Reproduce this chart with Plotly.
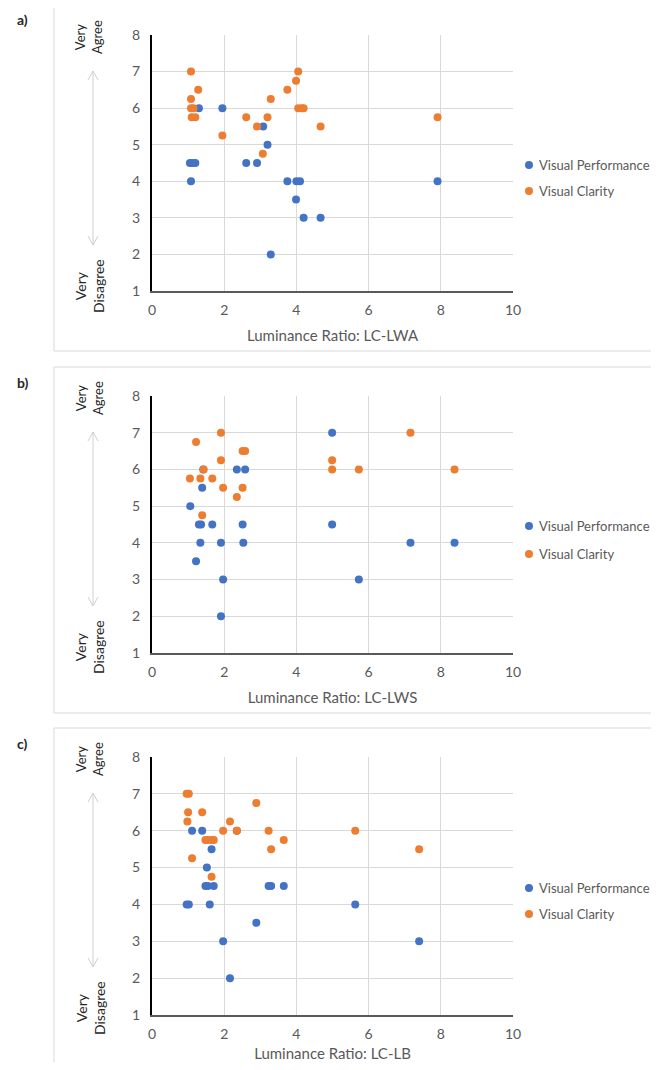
import plotly.graph_objects as go

PAGE_W, PAGE_H = 659, 1070
OFF = 8  # default body margin of the html page
W, H = PAGE_W - 2 * OFF, PAGE_H - 2 * OFF

# ---------------- data ----------------
# Panel a) Luminance Ratio: LC-LWA
a_perf_x = [1.08, 1.05, 1.12, 1.20, 1.30, 1.95, 2.61, 2.91, 3.08, 3.20, 3.29, 3.75, 4.00, 4.10, 3.99, 4.20, 4.67, 7.91]
a_perf_y = [4.0, 4.5, 4.5, 4.5, 6.0, 6.0, 4.5, 4.5, 5.5, 5.0, 2.0, 4.0, 4.0, 4.0, 3.5, 3.0, 3.0, 4.0]
a_clar_x = [1.08, 1.28, 1.08, 1.08, 1.15, 1.10, 1.20, 1.95, 2.61, 2.91, 3.07, 3.20, 3.29, 3.75, 3.99, 4.05, 4.05, 4.15, 4.20, 4.67, 7.91]
a_clar_y = [7.0, 6.5, 6.25, 6.0, 6.0, 5.75, 5.75, 5.25, 5.75, 5.5, 4.75, 5.75, 6.25, 6.5, 6.75, 7.0, 6.0, 6.0, 6.0, 5.5, 5.75]

# Panel b) Luminance Ratio: LC-LWS
b_perf_x = [4.99, 2.35, 2.58, 1.42, 1.39, 1.06, 1.30, 1.36, 1.67, 2.51, 4.99, 1.34, 1.91, 2.53, 7.16, 8.38, 1.22, 1.97, 5.73, 1.91]
b_perf_y = [7.0, 6.0, 6.0, 6.0, 5.5, 5.0, 4.5, 4.5, 4.5, 4.5, 4.5, 4.0, 4.0, 4.0, 4.0, 4.0, 3.5, 3.0, 3.0, 2.0]
b_clar_x = [1.91, 7.16, 1.22, 2.51, 2.58, 1.91, 4.99, 1.43, 4.99, 5.73, 8.38, 1.05, 1.34, 1.67, 1.97, 2.51, 2.35, 1.39]
b_clar_y = [7.0, 7.0, 6.75, 6.5, 6.5, 6.25, 6.25, 6.0, 6.0, 6.0, 6.0, 5.75, 5.75, 5.75, 5.5, 5.5, 5.25, 4.75]

# Panel c) Luminance Ratio: LC-LB
c_perf_x = [1.11, 1.39, 2.35, 1.65, 1.52, 1.48, 1.55, 1.71, 3.23, 3.30, 3.65, 0.96, 1.02, 1.60, 5.63, 2.89, 1.97, 7.40, 2.16]
c_perf_y = [6.0, 6.0, 6.0, 5.5, 5.0, 4.5, 4.5, 4.5, 4.5, 4.5, 4.5, 4.0, 4.0, 4.0, 4.0, 3.5, 3.0, 3.0, 2.0]
c_clar_x = [0.96, 1.02, 1.00, 1.39, 0.98, 2.16, 1.97, 2.35, 3.23, 5.63, 2.89, 1.48, 1.55, 1.65, 1.71, 3.65, 3.30, 7.40, 1.11, 1.65]
c_clar_y = [7.0, 7.0, 6.5, 6.5, 6.25, 6.25, 6.0, 6.0, 6.0, 6.0, 6.75, 5.75, 5.75, 5.75, 5.75, 5.75, 5.5, 5.5, 5.25, 4.75]

x_titles = ["Luminance Ratio: LC-LWA", "Luminance Ratio: LC-LWS", "Luminance Ratio: LC-LB"]
panel_labels = ["a)", "b)", "c)"]
series_names = ["Visual Performance", "Visual Clarity"]
series_colors = ["#4472C4", "#ED7D31"]
x_ticks = [0, 2, 4, 6, 8, 10]
y_ticks = [1, 2, 3, 4, 5, 6, 7, 8]

panels = [
    (a_perf_x, a_perf_y, a_clar_x, a_clar_y),
    (b_perf_x, b_perf_y, b_clar_x, b_clar_y),
    (c_perf_x, c_perf_y, c_clar_x, c_clar_y),
]

# ---------------- layout helpers (page pixel -> paper) ----------------
def px(x):
    return (x - OFF) / W

def py(y):
    return 1 - (y - OFF) / H

FONT = "Lato, 'Open Sans', sans-serif"
GRAY = "#595959"

# page-pixel geometry per panel: (y of value 8, y of value 1, box top, box bottom, legend y, legend gap)
geo = [
    (35, 291, 5, 351, 165, 26),
    (396, 653, 367, 713, 526, 28),
    (757, 1015, 728, 1078, 888, 26),
]
X0, X1 = 152, 513

fig = go.Figure()
shapes = []
annotations = []
layout_extra = {}

for i, (pxs, pys, cxs, cys) in enumerate(panels):
    sfx = "" if i == 0 else str(i + 1)
    xa = "x" + sfx
    ya = "y" + sfx
    ytop, ybot, btop, bbot, legy, leggap = geo[i]

    for j, (xs, ys) in enumerate([(pxs, pys), (cxs, cys)]):
        fig.add_trace(go.Scatter(
            x=xs, y=ys, mode="markers", name=series_names[j],
            marker=dict(color=series_colors[j], size=8, line=dict(width=0)),
            xaxis=xa, yaxis=ya, showlegend=False,
        ))
        # legend key (manual)
        ly = legy + j * leggap
        shapes.append(dict(type="circle", xref="paper", yref="paper",
                           x0=px(525), x1=px(533), y0=py(ly + 4), y1=py(ly - 4),
                           fillcolor=series_colors[j], line=dict(width=0)))
        annotations.append(dict(text=series_names[j], x=px(537), y=py(ly), xref="paper", yref="paper",
                                xanchor="left", yanchor="middle", showarrow=False,
                                font=dict(family=FONT, size=13, color=GRAY)))

    layout_extra["xaxis" + sfx] = dict(
        domain=[px(X0), px(X1)], anchor=ya, range=[0, 10],
        tickvals=x_ticks, showgrid=True, gridcolor="#D9D9D9", gridwidth=1,
        zeroline=False, showline=True, linecolor="#595959", linewidth=2,
        ticks="outside", ticklen=5, tickcolor="rgba(0,0,0,0)",
        tickfont=dict(family=FONT, size=14, color=GRAY),
        title=dict(text=x_titles[i], font=dict(family=FONT, size=15, color=GRAY), standoff=14),
        automargin=False,
    )
    layout_extra["yaxis" + sfx] = dict(
        domain=[py(ybot), py(ytop)], anchor=xa, range=[1, 8],
        tickvals=y_ticks, showgrid=True, gridcolor="#D9D9D9", gridwidth=1,
        zeroline=False, showline=True, linecolor="black", linewidth=2,
        ticks="outside", ticklen=7, tickcolor="rgba(0,0,0,0)",
        tickfont=dict(family=FONT, size=14, color=GRAY), automargin=False,
    )

    # panel border
    shapes.append(dict(type="rect", xref="paper", yref="paper",
                       x0=px(54), x1=px(670), y0=py(bbot), y1=py(btop),
                       line=dict(color="#D9D9D9", width=1), fillcolor="rgba(0,0,0,0)", layer="below"))
    # double headed arrow
    ax = 93
    a_top = ytop + 36
    a_bot = ytop + 210
    shapes.append(dict(type="line", xref="paper", yref="paper",
                       x0=px(ax), x1=px(ax), y0=py(a_top), y1=py(a_bot),
                       line=dict(color="#D0D0D0", width=1)))
    shapes.append(dict(type="path", xref="paper", yref="paper",
                       path=f"M {px(ax-5)},{py(a_top+9)} L {px(ax)},{py(a_top)} L {px(ax+5)},{py(a_top+9)}",
                       line=dict(color="#D0D0D0", width=1)))
    shapes.append(dict(type="path", xref="paper", yref="paper",
                       path=f"M {px(ax-5)},{py(a_bot-9)} L {px(ax)},{py(a_bot)} L {px(ax+5)},{py(a_bot-9)}",
                       line=dict(color="#D0D0D0", width=1)))

    # side labels
    annotations.append(dict(text="Very<br>Agree", x=px(89), y=py(ytop + 2), xref="paper", yref="paper",
                            xanchor="center", yanchor="middle",
                            textangle=-90, showarrow=False, align="center",
                            font=dict(family=FONT, size=13, color="#262626")))
    annotations.append(dict(text="Very<br>Disagree", x=px(90), y=py(ytop + 251), xref="paper", yref="paper",
                            xanchor="center", yanchor="middle",
                            textangle=-90, showarrow=False, align="center",
                            font=dict(family=FONT, size=14, color="#262626")))
    # panel label
    annotations.append(dict(text="<b>" + panel_labels[i] + "</b>", x=px(15), y=py(btop + 15),
                            xref="paper", yref="paper", showarrow=False,
                            xanchor="left", yanchor="middle",
                            font=dict(family=FONT, size=14, color="#262626")))

fig.update_layout(
    width=W, height=H, margin=dict(l=0, r=0, t=0, b=0, autoexpand=False),
    paper_bgcolor="white", plot_bgcolor="white",
    shapes=shapes, annotations=annotations, showlegend=False,
    **layout_extra,
)

fig.write_html("out.html", config={"displayModeBar": False})
